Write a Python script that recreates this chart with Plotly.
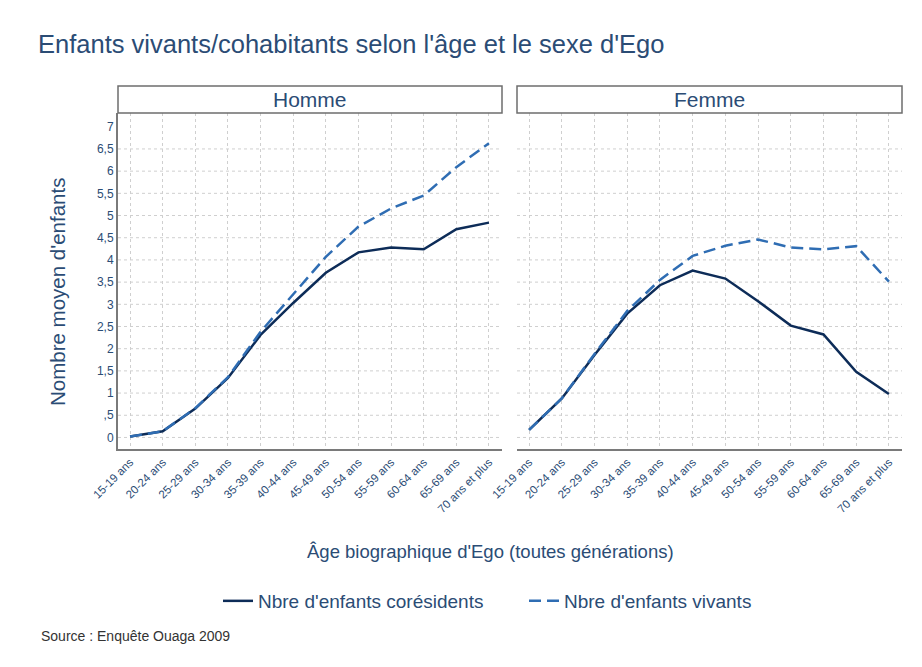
import plotly.graph_objects as go

# --- données ---
ages = ["15-19 ans", "20-24 ans", "25-29 ans", "30-34 ans", "35-39 ans", "40-44 ans",
        "45-49 ans", "50-54 ans", "55-59 ans", "60-64 ans", "65-69 ans", "70 ans et plus"]

homme_coresidents = [0.02, 0.14, 0.65, 1.34, 2.31, 3.03, 3.71, 4.17, 4.28, 4.24, 4.69, 4.84]
homme_vivants = [0.02, 0.14, 0.66, 1.36, 2.38, 3.22, 4.07, 4.75, 5.16, 5.45, 6.09, 6.63]

femme_coresidents = [0.17, 0.88, 1.86, 2.79, 3.43, 3.76, 3.58, 3.07, 2.52, 2.32, 1.48, 0.98]
femme_vivants = [0.17, 0.88, 1.88, 2.85, 3.55, 4.09, 4.32, 4.46, 4.28, 4.24, 4.31, 3.51]

y_ticks = [0, 0.5, 1, 1.5, 2, 2.5, 3, 3.5, 4, 4.5, 5, 5.5, 6, 6.5, 7]
y_ticktext = ["0", ",5", "1", "1,5", "2", "2,5", "3", "3,5", "4", "4,5", "5", "5,5", "6", "6,5", "7"]
y_grid = [0, 0.5, 1, 1.5, 2, 2.5, 3, 3.5, 4, 4.5, 5, 5.5, 6, 6.5]

panels = ["Homme", "Femme"]

# la page ajoute une marge de 8px autour du graphique
OFF = 8
W, H = 922 - OFF, 667 - OFF
TXT = "#2b4c75"
NAVY = "#0d2c58"
BLUE = "#2f6db3"
FONT = "Liberation Sans"

def px_x(p):
    return (p - OFF) / W

def px_y(p):
    return 1 - (p - OFF) / H

fig = go.Figure()

# Homme
fig.add_trace(go.Scatter(x=ages, y=homme_coresidents, mode="lines", name="Nbre d'enfants corésidents",
                         line=dict(color=NAVY, width=2.5), xaxis="x", yaxis="y"))
fig.add_trace(go.Scatter(x=ages, y=homme_vivants, mode="lines", name="Nbre d'enfants vivants",
                         line=dict(color=BLUE, width=2.5, dash="12px,6px"), xaxis="x", yaxis="y"))
# Femme
fig.add_trace(go.Scatter(x=ages, y=femme_coresidents, mode="lines", showlegend=False,
                         line=dict(color=NAVY, width=2.5), xaxis="x2", yaxis="y2"))
fig.add_trace(go.Scatter(x=ages, y=femme_vivants, mode="lines", showlegend=False,
                         line=dict(color=BLUE, width=2.5, dash="12px,6px"), xaxis="x2", yaxis="y2"))

xdom1 = [px_x(118), px_x(502)]
xdom2 = [px_x(517), px_x(902)]
ydom = [px_y(449), px_y(113)]

xcommon = dict(type="category", range=[-0.37, 11.4], showgrid=True, gridcolor="#cfcfcf",
               griddash="dot", gridwidth=1, tickangle=-45, ticks="", automargin=False,
               tickfont=dict(family=FONT, size=11.5, color=TXT),
               showline=True, linecolor="#7a7a7a", linewidth=2, zeroline=False, fixedrange=True)
ycommon = dict(range=[-0.26, 7.31], tickvals=y_ticks, ticktext=y_ticktext, showgrid=False,
               zeroline=False, ticks="", fixedrange=True, automargin=False,
               tickfont=dict(family=FONT, size=12, color=TXT))

fig.update_layout(
    width=W, height=H,
    margin=dict(l=0, r=0, t=0, b=0, pad=0),
    autosize=False,
    paper_bgcolor="white", plot_bgcolor="white",
    font=dict(family=FONT, color=TXT),
    showlegend=True,
    legend=dict(orientation="h", x=px_x(218), xanchor="left", y=px_y(601), yanchor="middle",
                font=dict(family=FONT, size=19, color=TXT), entrywidth=261, entrywidthmode="pixels",
                tracegroupgap=0, bgcolor="rgba(0,0,0,0)"),
    xaxis=dict(domain=xdom1, anchor="y", **xcommon),
    yaxis=dict(domain=ydom, anchor="x", showline=True, linecolor="#7a7a7a", linewidth=2,
               showticklabels=True, **ycommon),
    xaxis2=dict(domain=xdom2, anchor="y2", **xcommon),
    yaxis2=dict(domain=ydom, anchor="x2", showline=False, showticklabels=False, **ycommon),
)

# lignes de grille horizontales (pas de ligne à 7)
shapes = []
for xr, yr in [("x", "y"), ("x2", "y2")]:
    for g in y_grid:
        shapes.append(dict(type="line", xref=f"{xr} domain", yref=yr, x0=0, x1=1, y0=g, y1=g,
                           line=dict(color="#cfcfcf", width=1, dash="dot"), layer="below"))

# bandeaux Homme / Femme
annotations = []
for name, dom in zip(panels, [xdom1, xdom2]):
    shapes.append(dict(type="rect", xref="paper", yref="paper", x0=dom[0], x1=dom[1],
                       y0=px_y(113), y1=px_y(86), fillcolor="white",
                       line=dict(color="#6e6e6e", width=1.5)))
    annotations.append(dict(text=name, xref="paper", yref="paper", x=(dom[0] + dom[1]) / 2,
                            y=px_y(99.5), xanchor="center", yanchor="middle", showarrow=False,
                            font=dict(family=FONT, size=21, color=TXT)))

annotations += [
    dict(text="Enfants vivants/cohabitants selon l'âge et le sexe d'Ego", xref="paper", yref="paper",
         x=px_x(36), y=px_y(44), xanchor="left", yanchor="middle", showarrow=False,
         font=dict(family=FONT, size=25.5, color=TXT)),
    dict(text="Nombre moyen d'enfants", xref="paper", yref="paper", x=px_x(57), y=px_y(292),
         xanchor="center", yanchor="middle", textangle=-90, showarrow=False,
         font=dict(family=FONT, size=20.5, color=TXT)),
    dict(text="Âge biographique d'Ego (toutes générations)", xref="paper", yref="paper",
         x=px_x(490), y=px_y(551), xanchor="center", yanchor="middle", showarrow=False,
         font=dict(family=FONT, size=18.5, color=TXT)),
    dict(text="Source : Enquête Ouaga 2009", xref="paper", yref="paper", x=px_x(39), y=px_y(636),
         xanchor="left", yanchor="middle", showarrow=False,
         font=dict(family=FONT, size=14, color="#333333")),
]

fig.update_layout(shapes=shapes, annotations=annotations)

fig.write_html("out.html")
